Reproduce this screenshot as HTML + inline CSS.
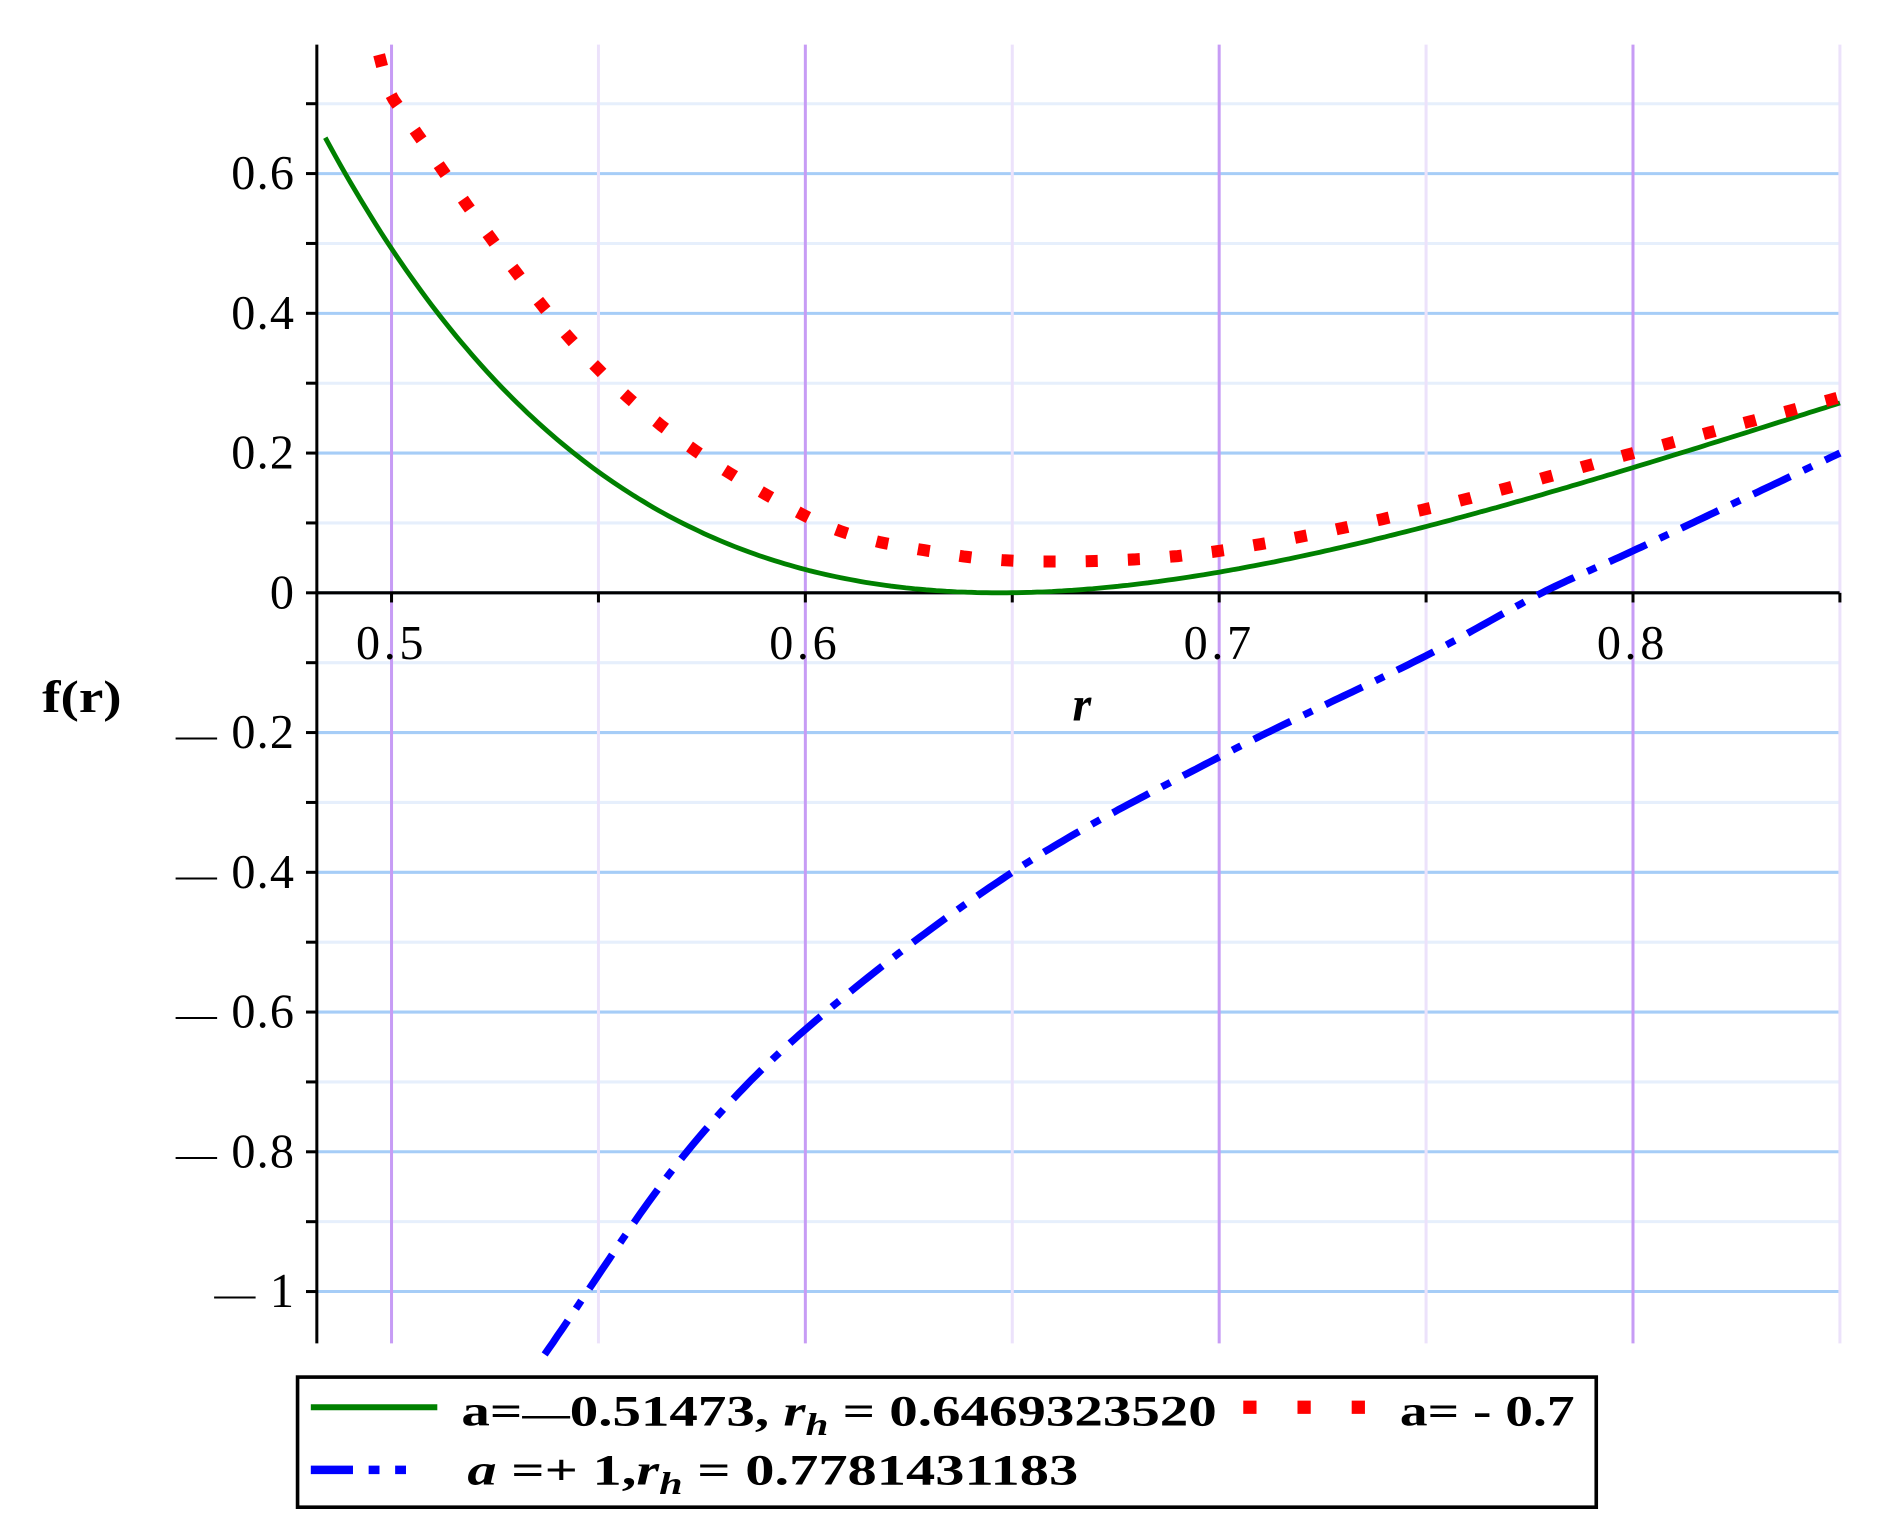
<!DOCTYPE html>
<html><head><meta charset="utf-8"><style>
html,body{margin:0;padding:0;background:#fff;}
svg{display:block;}
text{font-family:"Liberation Serif",serif;fill:#000;}
</style></head><body>
<svg id="s" width="1889" height="1535" viewBox="0 0 1568 1274" xmlns="http://www.w3.org/2000/svg">
<g id="grid"></g>
<g id="axes"></g>
<path id="green" fill="none" stroke="#008000" stroke-width="4"/>
<path id="red" fill="none" stroke="#ff0000" stroke-width="10" stroke-dasharray="10 25"/>
<path id="blue" fill="none" stroke="#0000ff" stroke-width="6" stroke-dasharray="34 12 8 12"/>
<g font-size="40" letter-spacing="1">
<text x="245" y="157" text-anchor="end">0.6</text>
<text x="245" y="273" text-anchor="end">0.4</text>
<text x="245" y="389" text-anchor="end">0.2</text>
<text x="245" y="505" text-anchor="end">0</text>
<text x="245" y="621" text-anchor="end"><tspan font-size="34">—</tspan> 0.2</text>
<text x="245" y="737" text-anchor="end"><tspan font-size="34">—</tspan> 0.4</text>
<text x="245" y="853" text-anchor="end"><tspan font-size="34">—</tspan> 0.6</text>
<text x="245" y="969" text-anchor="end"><tspan font-size="34">—</tspan> 0.8</text>
<text x="245" y="1085" text-anchor="end"><tspan font-size="34">—</tspan> 1</text>
<text x="325" y="547" text-anchor="middle" letter-spacing="3">0.5</text>
<text x="668" y="547" text-anchor="middle" letter-spacing="3">0.6</text>
<text x="1012" y="547" text-anchor="middle" letter-spacing="3">0.7</text>
<text x="1355" y="547" text-anchor="middle" letter-spacing="3">0.8</text>
</g>
<text x="898" y="598" font-size="40" font-weight="bold" font-style="italic" text-anchor="middle">r</text>
<text x="35" y="591" font-size="38" font-weight="bold" textLength="66" lengthAdjust="spacingAndGlyphs">f(r)</text>
<rect x="247" y="1143" width="1078" height="108" fill="#fff" stroke="#000" stroke-width="3"/>
<line x1="258" y1="1168" x2="363" y2="1168" stroke="#008000" stroke-width="5"/>
<text x="383" y="1183" font-size="36" font-weight="bold" textLength="627" lengthAdjust="spacingAndGlyphs">a=<tspan font-size="30">—</tspan>0.51473, <tspan font-style="italic">r</tspan><tspan font-style="italic" font-size="26" dy="8">h</tspan><tspan dy="-8"> = 0.6469323520</tspan></text>
<line x1="1032" y1="1168" x2="1140" y2="1168" stroke="#ff0000" stroke-width="11" stroke-dasharray="11 34"/>
<text x="1162" y="1183" font-size="36" font-weight="bold" textLength="145" lengthAdjust="spacingAndGlyphs">a= - 0.7</text>
<line x1="258" y1="1220" x2="363" y2="1220" stroke="#0000ff" stroke-width="7" stroke-dasharray="35 13 9 13 9 30"/>
<text x="388" y="1232" font-size="36" font-weight="bold" textLength="507" lengthAdjust="spacingAndGlyphs"><tspan font-style="italic">a</tspan> =+ 1,<tspan font-style="italic">r</tspan><tspan font-style="italic" font-size="26" dy="8">h</tspan><tspan dy="-8"> = 0.7781431183</tspan></text>
</svg>
<script>
var NS="http://www.w3.org/2000/svg";
function X(r){return 325+(r-0.5)*3435;}
function Y(v){return 492-v*580;}
function el(p,t,a){var e=document.createElementNS(NS,t);for(var k in a)e.setAttribute(k,a[k]);p.appendChild(e);return e;}
var g=document.getElementById('grid'),ax=document.getElementById('axes');
for(var i=-10;i<=7;i++){var v=i/10,y=Y(v);var major=(i%2===0);
 el(g,'line',{x1:263,x2:1527,y1:y,y2:y,stroke:major?'#a6cdf7':'#e6effc','stroke-width':2.5});}
for(var j=0;j<8;j++){var r=0.5+j*0.05,x=X(r);var major=(j%2===0);
 el(g,'line',{x1:x,x2:x,y1:37,y2:1115,stroke:major?'#c79cf5':'#ece2fb','stroke-width':2.5});}
el(ax,'line',{x1:263,x2:263,y1:37,y2:1115,stroke:'#000','stroke-width':2.5});
el(ax,'line',{x1:263,x2:1527,y1:492,y2:492,stroke:'#000','stroke-width':2.5});
for(var i=-10;i<=7;i++){var y=Y(i/10);el(ax,'line',{x1:254,x2:263,y1:y,y2:y,stroke:'#000','stroke-width':2.5});}
for(var j=0;j<8;j++){var x=X(0.5+j*0.05);el(ax,'line',{x1:x,x2:x,y1:492,y2:500,stroke:'#000','stroke-width':2.5});}
function path(f,a,b){var d='';for(var k=0;k<=300;k++){var r=a+(b-a)*k/300;d+=(k?'L':'M')+X(r).toFixed(1)+','+Y(f(r)).toFixed(1);}return d;}
function gr(r){var t=1-0.647/r;return t*t*(5.7-(r-0.5)*2.67);}
document.getElementById('green').setAttribute('d',path(gr,0.484,0.85));
function cr(pts){return function(r){for(var i=0;i<pts.length-1;i++){if(r<=pts[i+1][0]||i==pts.length-2){var p0=pts[Math.max(i-1,0)],p1=pts[i],p2=pts[i+1],p3=pts[Math.min(i+2,pts.length-1)];var h=p2[0]-p1[0],t=(r-p1[0])/h;
var m1=(p2[1]-p0[1])/(p2[0]-p0[0])*h,m2=(p3[1]-p1[1])/(p3[0]-p1[0])*h;var t2=t*t,t3=t2*t;
return (2*t3-3*t2+1)*p1[1]+(t3-2*t2+t)*m1+(-2*t3+3*t2)*p2[1]+(t3-t2)*m2;}}};}
var red=cr([[0.497,0.77],[0.5,0.71],[0.55,0.32],[0.6,0.11],[0.635,0.055],[0.665,0.045],[0.7,0.06],[0.75,0.12],[0.8,0.2],[0.85,0.28]]);
document.getElementById('red').setAttribute('d',path(red,0.497,0.85));
var blue=cr([[0.537,-1.09],[0.57,-0.81],[0.6,-0.625],[0.65,-0.40],[0.7,-0.235],[0.75,-0.09],[0.778,0],[0.8,0.06],[0.85,0.2]]);
document.getElementById('blue').setAttribute('d',path(blue,0.537,0.85));
</script>
</body></html>
